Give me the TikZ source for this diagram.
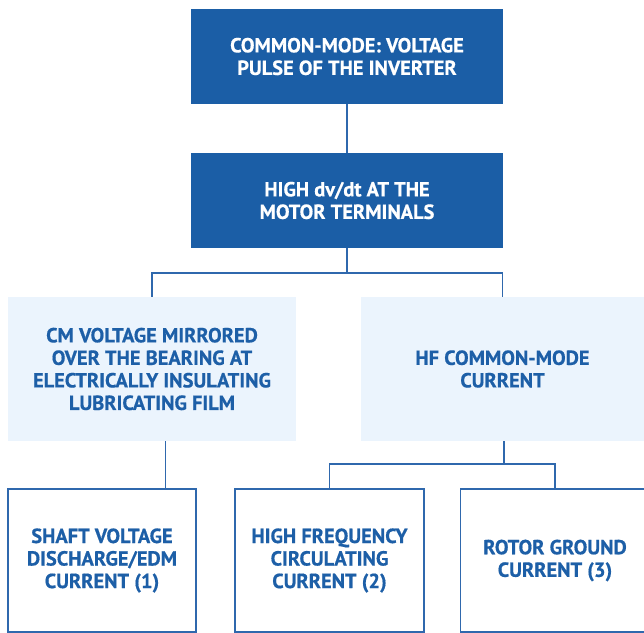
\documentclass[tikz,border=0pt]{standalone}
\usepackage{fontspec}
\setmainfont{PT Sans}[BoldFeatures={FakeBold=0.6}]
\definecolor{darkblue}{HTML}{1B5EA6}
\definecolor{paleblue}{HTML}{EBF4FD}
\definecolor{lineblue}{HTML}{2F68AD}
\definecolor{textblue}{HTML}{1D5FA7}
\tikzset{
  base/.style={rectangle, inner sep=0pt, align=center, font=\fontsize{15.3}{16.9}\selectfont\bfseries},
  topbox/.style={base, fill=darkblue, text=white},
  midbox/.style={base, fill=paleblue, text=textblue},
  leafbox/.style={base, draw=lineblue, line width=0.9pt, fill=white, text=textblue},
  link/.style={draw=lineblue, line width=0.9pt}
}
\begin{document}
\begin{tikzpicture}[x=0.75pt, y=-0.75pt]
\useasboundingbox (0,0) rectangle (644,633);
% upper chain
\node[topbox, minimum width=234pt, minimum height=71.25pt] (cm) at (347,56.5)
  {COMMON-MODE: VOLTAGE\\PULSE OF THE INVERTER};
\node[topbox, minimum width=234pt, minimum height=71.25pt] (dvdt) at (347,200.5)
  {HIGH dv/dt AT THE\\MOTOR TERMINALS};
% middle level
\node[midbox, minimum width=216pt, minimum height=108pt] (mirror) at (152,369)
  {CM VOLTAGE MIRRORED\\OVER THE BEARING AT\\ELECTRICALLY INSULATING\\LUBRICATING FILM};
\node[midbox, minimum width=212.25pt, minimum height=108pt] (hf) at (502.5,369)
  {HF COMMON-MODE\\CURRENT};
% bottom level
\node[leafbox, minimum width=141pt, minimum height=107.25pt] (edm) at (102,560.5)
  {SHAFT VOLTAGE\\DISCHARGE/EDM\\CURRENT (1)};
\node[leafbox, minimum width=141.75pt, minimum height=107.25pt] (circ) at (329.5,560.5)
  {HIGH FREQUENCY\\CIRCULATING\\CURRENT (2)};
\node[leafbox, minimum width=141.75pt, minimum height=107.25pt] (rotor) at (555,560.5)
  {ROTOR GROUND\\CURRENT (3)};
% connectors
\coordinate (split1) at (347,273);
\coordinate (split2) at (504,464);
\coordinate (drop) at (165.5,0);
\draw[link] (cm.south) -- (dvdt.north);
\draw[link] (dvdt.south) -- (split1);
\draw[link] (split1) -| (mirror.north);
\draw[link] (split1) -| (hf.north);
\draw[link] (mirror.south -| drop) -- (edm.north -| drop);
\draw[link] (hf.south -| split2) -- (split2);
\draw[link] (split2) -| (circ.north);
\draw[link] (split2) -| (rotor.north);
\end{tikzpicture}
\end{document}
